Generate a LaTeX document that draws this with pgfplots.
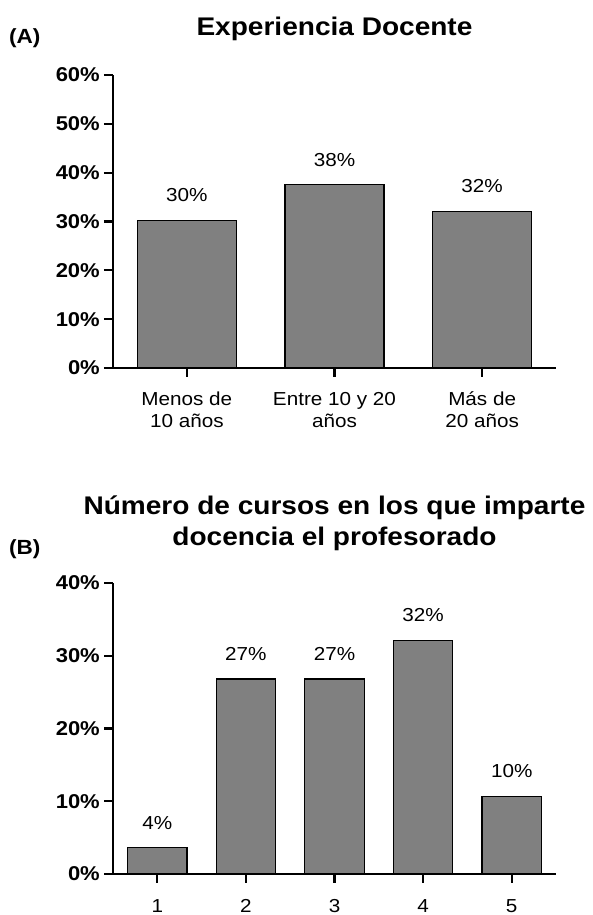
\documentclass[border=0pt]{standalone}
\usepackage{pgfplots}
\pgfplotsset{compat=1.18}
\usepackage{fontspec}
\setmainfont{Liberation Sans}[FakeStretch=1.1]
\definecolor{barfill}{RGB}{128,128,128}
\begin{document}
\begin{tikzpicture}
\pgfplotsset{
  myaxis/.style={
    scale only axis, width=443pt,
    axis x line*=bottom, axis y line*=left,
    axis line style={line width=2.2pt, -},
    major tick length=9pt,
    tick style={line width=2.2pt, black},
    tick align=outside,
    ymin=0,
    yticklabel style={font=\fontsize{20}{23}\selectfont\bfseries, inner sep=0pt, anchor=east, xshift=-4pt},
    xticklabel style={font=\fontsize{18.8}{22.5}\selectfont, align=center, inner sep=0pt, anchor=north},
    ybar, bar width=0.67,
    nodes near coords, point meta=explicit symbolic,
    every node near coord/.append style={font=\fontsize{18.8}{23}\selectfont, inner sep=0pt, anchor=south, yshift=18pt},
    clip=false,
  }
}
\begin{axis}[myaxis, at={(113pt,547pt)}, anchor=south west, height=293pt,
  xticklabel style={yshift=-12pt},
  xmin=-0.5, xmax=2.5, xtick={0,1,2},
  xticklabels={{\vphantom{Á}Menos de\\10 años},{\vphantom{Á}Entre 10 y 20\\años},{\vphantom{Á}Más de\\20 años}},
  ymax=60, ytick={0,10,20,30,40,50,60},
  yticklabels={0\%,10\%,20\%,30\%,40\%,50\%,60\%}]
\addplot[fill=barfill, draw=black, line width=1.2pt] coordinates {(0,30.2) [30\%] (1,37.5) [38\%] (2,32.0) [32\%]};
\end{axis}
\begin{axis}[myaxis, at={(113pt,41pt)}, anchor=south west, height=291pt,
  xticklabel style={yshift=-16pt},
  xmin=0.5, xmax=5.5, xtick={1,2,3,4,5},
  xticklabels={1,2,3,4,5},
  ymax=40, ytick={0,10,20,30,40},
  yticklabels={0\%,10\%,20\%,30\%,40\%}]
\addplot[fill=barfill, draw=black, line width=1.2pt] coordinates {(1,3.6) [4\%] (2,26.8) [27\%] (3,26.8) [27\%] (4,32.1) [32\%] (5,10.7) [10\%]};
\end{axis}
\node[anchor=base, font=\fontsize{25.5}{30}\selectfont\bfseries, inner sep=0pt] at (334.5pt,879pt) {Experiencia Docente};
\node[anchor=base west, font=\fontsize{20.5}{24}\selectfont\bfseries, inner sep=0pt] at (9pt,871pt) {(A)};
\node[anchor=base, font=\fontsize{25.5}{30}\selectfont\bfseries, inner sep=0pt] at (334.5pt,400pt) {Número de cursos en los que imparte};
\node[anchor=base, font=\fontsize{25.5}{30}\selectfont\bfseries, inner sep=0pt] at (334.5pt,369pt) {docencia el profesorado};
\node[anchor=base west, font=\fontsize{20.5}{24}\selectfont\bfseries, inner sep=0pt] at (9pt,360pt) {(B)};
\pgfresetboundingbox
\useasboundingbox (0pt,0pt) rectangle (592pt,915pt);
\end{tikzpicture}
\end{document}
